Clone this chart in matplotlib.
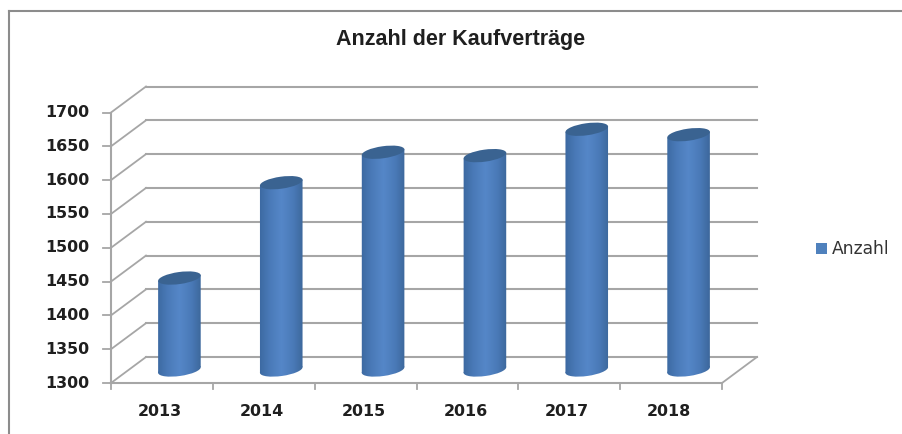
import numpy as np
import matplotlib
matplotlib.use("Agg")
import matplotlib.pyplot as plt
from matplotlib.colors import LinearSegmentedColormap
from matplotlib.patches import Ellipse, Rectangle
from matplotlib.path import Path
from matplotlib.transforms import Affine2D, IdentityTransform

years = ["2013", "2014", "2015", "2016", "2017", "2018"]
anzahl = [1436, 1577, 1622, 1617, 1656, 1648]
y_ticks = [1300, 1350, 1400, 1450, 1500, 1550, 1600, 1650, 1700]

W, H = 903, 434
DEPTH_X, DEPTH_Y = 35, 26
GREY = "#a6a6a6"

plt.rcParams["font.family"] = ["DejaVu Sans"]

fig = plt.figure(figsize=(W / 100, H / 100), dpi=100)

# front plane of the 3D box
left, right, top, bottom = 111, 722, 112.5, 383
ax = fig.add_axes([left / W, 1 - bottom / H, (right - left) / W, (bottom - top) / H])
ax.set_xlim(0, len(years))
ax.set_ylim(y_ticks[0], y_ticks[-1])
ax.axis("off")

back = ax.transData + Affine2D().translate(DEPTH_X, DEPTH_Y)
mid = ax.transData + Affine2D().translate(DEPTH_X / 2, DEPTH_Y / 2)
n = len(years)


def depth_line(x, y):
    # line from the front plane to the back wall, same data point
    p0 = ax.transData.transform((x, y))
    p1 = back.transform((x, y))
    ax.plot([p0[0], p1[0]], [p0[1], p1[1]], color=GREY, lw=1.3,
            transform=IdentityTransform(), clip_on=False, zorder=1)


for v in y_ticks:
    ax.plot([0, n], [v, v], color=GREY, lw=1.5, transform=back, clip_on=False, zorder=1)
    depth_line(0, v)
    # small tick left of the axis
    p = ax.transData.transform((0, v))
    ax.plot([p[0] - 8, p[0]], [p[1], p[1]], color=GREY, lw=1.3,
            transform=IdentityTransform(), clip_on=False, zorder=1)
    ax.annotate(str(v), (0, v), xytext=(-22, 0), textcoords="offset pixels", ha="right",
                va="center", fontsize=11.4, fontweight="bold", color="#1f1f1f")

depth_line(n, y_ticks[0])
ax.plot([0, 0], [y_ticks[0], y_ticks[-1]], color=GREY, lw=1.5, clip_on=False, zorder=1)
ax.plot([0, n], [y_ticks[0], y_ticks[0]], color=GREY, lw=1.5, clip_on=False, zorder=1)
for i in range(n + 1):
    p = ax.transData.transform((i, y_ticks[0]))
    ax.plot([p[0], p[0]], [p[1] - 6, p[1]], color=GREY, lw=1.3,
            transform=IdentityTransform(), clip_on=False, zorder=1)

for i, yr in enumerate(years):
    ax.annotate(yr, (i + 0.5, y_ticks[0]), xytext=(-2, -29), textcoords="offset pixels",
                ha="center", va="center", fontsize=11.4, fontweight="bold", color="#1f1f1f")

# cylinders
shade = LinearSegmentedColormap.from_list(
    "cyl", ["#2a4f7e", "#3a679e", "#4a7ab8", "#5587c8", "#4a7ab8", "#3a6496", "#284a74"])
grad = np.linspace(0, 1, 128).reshape(1, -1)
bar_w = 0.345
tilt = 8
ry = 6
rx = 21.5

for i, val in enumerate(anzahl):
    x0, x1 = i + 0.5 - bar_w, i + 0.5 + bar_w
    pb = mid.transform((i + 0.5, y_ticks[0]))
    pt = mid.transform((i + 0.5, val))
    # outline of the side: bottom ellipse + box up to the top ellipse
    dx, dy = rx * np.cos(np.radians(tilt)), rx * np.sin(np.radians(tilt))
    side = Path([(pb[0] - dx, pb[1] - dy), (pb[0] + dx, pb[1] + dy),
                 (pt[0] + dx, pt[1] + dy), (pt[0] - dx, pt[1] - dy), (pb[0] - dx, pb[1] - dy)])
    im = ax.imshow(grad, extent=[x0, x1, y_ticks[0] - 30, val + 30], aspect="auto",
                   cmap=shade, transform=mid, zorder=3)
    im.set_clip_path(side, transform=IdentityTransform())
    bottom_e = Ellipse(pb, 2 * rx, 2 * ry, angle=tilt)
    im2 = ax.imshow(grad, extent=[x0, x1, y_ticks[0] - 30, val + 30], aspect="auto",
                    cmap=shade, transform=mid, zorder=3)
    im2.set_clip_path(bottom_e.get_patch_transform().transform_path(bottom_e.get_path()),
                      transform=IdentityTransform())
    top_e = Ellipse(pt, 2 * rx, 2 * ry, angle=tilt, facecolor="#3a6391", edgecolor="none",
                    transform=IdentityTransform(), zorder=4, clip_on=False)
    ax.add_patch(top_e)

ax.set_xlim(0, n)
ax.set_ylim(y_ticks[0], y_ticks[-1])

fig.text(460.5 / W, 1 - 40 / H, "Anzahl der Kaufverträge", ha="center", va="center",
         fontsize=15.5, fontweight="bold", color="#1f1f1f", family="Liberation Sans")

# legend
fig.add_artist(Rectangle((816 / W, 1 - 253.5 / H), 11 / W, 11 / H, transform=fig.transFigure,
                         facecolor="#4f81bd", edgecolor="none"))
fig.text(832 / W, 1 - 248.5 / H, "Anzahl", ha="left", va="center", fontsize=12.3, color="#333333")

# chart frame
fig.add_artist(plt.Line2D([9 / W, 9 / W], [0, 1 - 10.5 / H], color="#8c8c8c", lw=1.5))
fig.add_artist(plt.Line2D([9 / W, 1], [1 - 10.5 / H, 1 - 10.5 / H], color="#8c8c8c", lw=1.5))

fig.savefig("out.png", dpi=100)
